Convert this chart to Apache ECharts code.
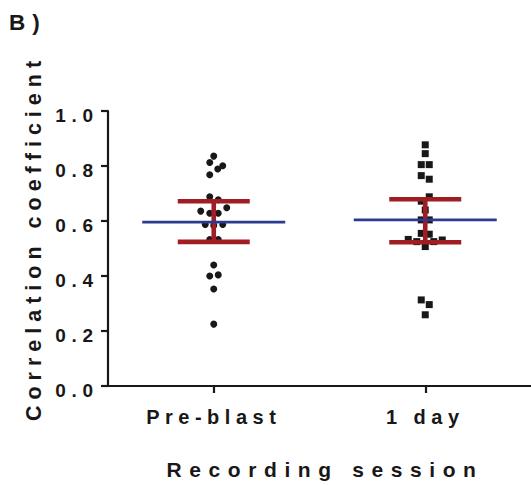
<!DOCTYPE html>
<html>
<head>
<meta charset="utf-8">
<script src="https://cdn.jsdelivr.net/npm/echarts@6.0.0/dist/echarts.min.js"></script>
<style>
  html, body { margin: 0; padding: 0; background: #ffffff; }
  #chart { width: 531px; height: 485px; }
  /* tracked-out lettering, keyed on each text's font size */
  #chart text[style*="19px"] { letter-spacing: 5.8px; }
  #chart text[style*="20px"] { letter-spacing: 5.5px; }
  #chart text[style*="21px"] { letter-spacing: 7.6px; }
  #chart text[style*="21.5px"] { letter-spacing: 6px; }
  #chart text[style*="22.5px"] { letter-spacing: 7px; }
</style>
</head>
<body>
<div id="chart"></div>
<script>
// Recording sessions
const sessions = ['Pre-blast', '1 day'];

// Correlation coefficients per recording
const preBlastValues = [0.836, 0.813, 0.801, 0.789, 0.768, 0.688, 0.677, 0.648, 0.636, 0.628, 0.628,
  0.587, 0.587, 0.584, 0.533, 0.533, 0.440, 0.404, 0.400, 0.353, 0.225];
const oneDayValues = [0.877, 0.845, 0.805, 0.805, 0.765, 0.752, 0.688, 0.672, 0.640, 0.604, 0.604,
  0.555, 0.552, 0.533, 0.525, 0.525, 0.531, 0.507, 0.313, 0.296, 0.259];

// Horizontal scatter of overlapping points (pixels)
const preBlastSpread = [0, -4, 9, 4, -4, -4, 4.5, 13, -13, -4, 4.5, -8.5, 9, 0, -4, 4.5, 0, 4.5, -4, 0, 0];
const oneDaySpread = [0, 0, -4, 4, -4, 4, 4, -4, 0, -4, 4, -4, 4, -17, -8.5, 8.5, 17, 0, -4, 4, 0];

// Group summary: mean with error limits
const means = [0.596, 0.604];
const lowerLimits = [0.524, 0.523];
const upperLimits = [0.672, 0.679];

// Y axis ticks
const yTicks = [0, 0.2, 0.4, 0.6, 0.8, 1.0];

const ink = '#1a1718';
const barRed = '#a11d24';
const meanBlue = '#2b3a92';
const fontFamily = '"Liberation Sans", Arial, Helvetica, sans-serif';

function pointsFor(groupIndex, values, spread) {
  return values.map((v, i) => ({ value: [groupIndex, v], symbolOffset: [spread[i], 0] }));
}

const summaryData = means.map((m, i) => [i, m, lowerLimits[i], upperLimits[i]]);

const chart = echarts.init(document.getElementById('chart'), null, { renderer: 'svg' });

chart.setOption({
  animation: false,
  backgroundColor: '#ffffff',
  grid: { left: 108, right: -5, top: 111, bottom: 99, containLabel: false },
  xAxis: {
    type: 'category',
    data: sessions,
    boundaryGap: true,
    axisLine: { show: true, lineStyle: { color: ink, width: 2.2 } },
    axisTick: { show: true, alignWithLabel: true, length: 7, lineStyle: { color: ink, width: 2.2 } },
    axisLabel: { color: ink, fontSize: 20, fontWeight: 'bold', fontFamily: fontFamily, margin: 21 },
    splitLine: { show: false }
  },
  yAxis: {
    type: 'value',
    min: yTicks[0],
    max: yTicks[yTicks.length - 1],
    interval: 0.2,
    axisLine: { show: true, lineStyle: { color: ink, width: 2.2 } },
    axisTick: { show: true, length: 7, lineStyle: { color: ink, width: 2.2 } },
    axisLabel: {
      color: ink, fontSize: 19, fontWeight: 'bold', fontFamily: fontFamily, margin: 9,
      verticalAlign: 'top', lineHeight: 9,
      formatter: v => v.toFixed(1)
    },
    splitLine: { show: false }
  },
  graphic: [
    {
      type: 'text', left: 9, top: 11,
      style: { text: 'B)', fontSize: 22.5, fontWeight: 'bold', fontFamily: fontFamily, fill: ink }
    },
    {
      type: 'text', x: 34, y: 238, rotation: Math.PI / 2,
      style: {
        text: 'Correlation coefficient', fontSize: 21.5, fontWeight: 'bold', fontFamily: fontFamily,
        fill: ink, align: 'center', verticalAlign: 'middle'
      }
    },
    {
      type: 'text', x: 325, y: 469,
      style: {
        text: 'Recording session', fontSize: 21, fontWeight: 'bold', fontFamily: fontFamily,
        fill: ink, align: 'center', verticalAlign: 'middle'
      }
    }
  ],
  series: [
    {
      name: sessions[0],
      type: 'scatter',
      symbol: 'circle',
      symbolSize: 7,
      itemStyle: { color: ink, opacity: 1 },
      data: pointsFor(0, preBlastValues, preBlastSpread),
      z: 2
    },
    {
      name: sessions[1],
      type: 'scatter',
      symbol: 'rect',
      symbolSize: 7,
      itemStyle: { color: ink, opacity: 1 },
      data: pointsFor(1, oneDayValues, oneDaySpread),
      z: 2
    },
    {
      type: 'custom',
      z: 5,
      data: summaryData,
      renderItem: function (params, api) {
        const g = api.value(0);
        const mid = api.coord([g, api.value(1)]);
        const lo = api.coord([g, api.value(2)]);
        const hi = api.coord([g, api.value(3)]);
        const capHalf = 36;
        const meanHalf = 71.5;
        const redStyle = { stroke: barRed, lineWidth: 4.6 };
        return {
          type: 'group',
          children: [
            { type: 'line', shape: { x1: lo[0], y1: lo[1], x2: hi[0], y2: hi[1] }, style: redStyle },
            { type: 'line', shape: { x1: hi[0] - capHalf, y1: hi[1], x2: hi[0] + capHalf, y2: hi[1] }, style: redStyle },
            { type: 'line', shape: { x1: lo[0] - capHalf, y1: lo[1], x2: lo[0] + capHalf, y2: lo[1] }, style: redStyle },
            {
              type: 'line',
              shape: { x1: mid[0] - meanHalf, y1: mid[1], x2: mid[0] + meanHalf, y2: mid[1] },
              style: { stroke: meanBlue, lineWidth: 2.6 }
            }
          ]
        };
      }
    }
  ]
});
</script>
</body>
</html>
